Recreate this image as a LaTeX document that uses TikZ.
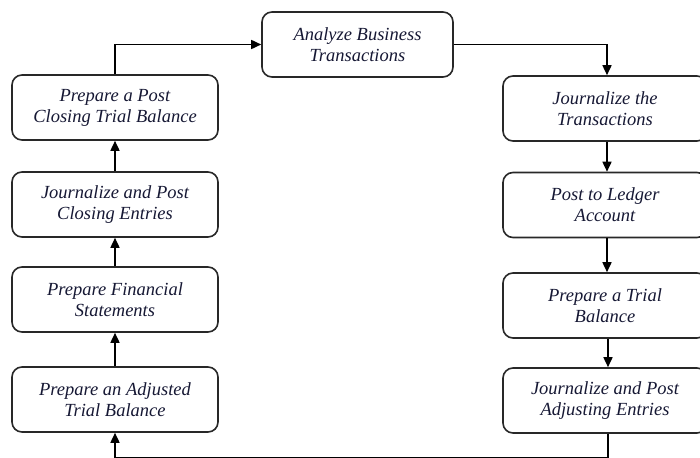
\documentclass[tikz,border=0pt]{standalone}
\usepackage{fontspec}
\setmainfont{Liberation Serif}
\usetikzlibrary{arrows.meta}
\definecolor{inkblue}{RGB}{22,24,52}
\definecolor{boxline}{RGB}{40,40,40}
\begin{document}
\begin{tikzpicture}[x=1pt,y=-1pt,
  stepbox/.style={draw=boxline, line width=1.6pt, rounded corners=10pt,
    align=center, inner sep=0pt, text=inkblue,
    font=\fontsize{18.5}{21}\selectfont\itshape,
    minimum height=65pt},
  leftbox/.style={stepbox, minimum width=206pt},
  rightbox/.style={stepbox, minimum width=204pt},
  flow/.style={-{Triangle[length=10pt,width=9pt]}, line width=1.6pt, black}]
\useasboundingbox (0,0) rectangle (700,457);
\clip (0,0) rectangle (700,457);

% top of the cycle
\node[stepbox, minimum width=191pt] (analyze) at (357.5,44.5)
  {Analyze Business\\Transactions};

% right column, running downwards
\node[rightbox] (journal) at (605,108.5) {Journalize the\\Transactions};
\node[rightbox] (ledger)  at (605,205)   {Post to Ledger\\Account};
\node[rightbox] (trial)   at (605,305.5) {Prepare a Trial\\Balance};
\node[rightbox] (adjpost) at (605,400.5) {Journalize and Post\\Adjusting Entries};

% left column, running upwards
\node[leftbox] (adjtb)   at (115,399.5) {Prepare an Adjusted\\Trial Balance};
\node[leftbox] (fin)     at (115,299.5) {Prepare Financial\\Statements};
\node[leftbox] (closing) at (115,204.5) {Journalize and Post\\Closing Entries};
\node[leftbox] (postct)  at (115,107.5) {Prepare a Post\\Closing Trial Balance};

% connectors
\draw[flow] (analyze.east) -| ([xshift=2pt]journal.north);
\draw[flow] ([xshift=2pt]journal.south) -- ([xshift=2pt]ledger.north);
\draw[flow] ([xshift=2pt]ledger.south) -- ([xshift=2pt]trial.north);
\draw[flow] ([xshift=3pt]trial.south) -- ([xshift=3pt]adjpost.north);
\draw[flow] ([xshift=3pt]adjpost.south) -- ++(0,23.5) -| (adjtb.south);
\draw[flow] (adjtb.north) -- (fin.south);
\draw[flow] (fin.north) -- (closing.south);
\draw[flow] (closing.north) -- (postct.south);
\draw[flow] (postct.north) |- (analyze.west);
\end{tikzpicture}
\end{document}
